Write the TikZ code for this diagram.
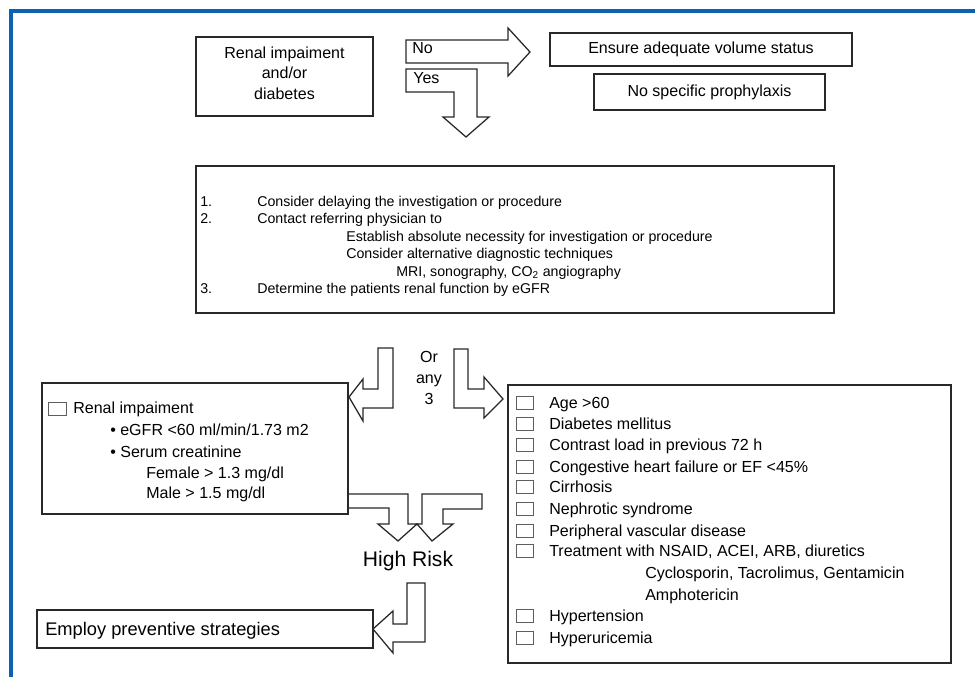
\documentclass[tikz,border=0pt]{standalone}
\usepackage{fontspec}
\setmainfont{Liberation Sans}
\definecolor{frameblue}{RGB}{14,96,180}
\definecolor{ink}{RGB}{40,40,40}
\begin{document}
\begin{tikzpicture}[x=0.025cm,y=-0.025cm,
  box/.style={draw=ink,line width=1pt,inner sep=0pt,align=center,font=\fontsize{11.4}{14.5}\selectfont},
  bigarrow/.style={draw=ink,line width=0.9pt,line join=miter},
  txt/.style={anchor=base west,inner sep=0pt,font=\fontsize{11.4}{14}\selectfont},
  small/.style={txt,font=\fontsize{10.1}{12}\selectfont},
  tickbox/.style={draw=ink!75,line width=0.6pt}]
\useasboundingbox (0,0) rectangle (975,677);
\draw[frameblue,line width=2.2pt] (11,677) -- (11,11) -- (975,11);
\def\boxat#1#2#3#4#5#6{\node[box,minimum width={(#4-#2)*0.025cm},minimum height={(#5-#3)*0.025cm}] (#1) at ({(#2+#4)/2},{(#3+#5)/2}) {#6};}
\boxat{start}{196}{37}{373}{116}{}
\node[align=center,inner sep=0pt,font=\fontsize{11.4}{14.5}\selectfont] (starttxt) at (284.5,73) {Renal impaiment\\and/or\\diabetes};
\boxat{volume}{550}{33}{852}{66}{Ensure adequate volume status}
\boxat{noproph}{594}{74}{825}{110}{No specific prophylaxis}
\boxat{steps}{196}{166}{834}{313}{}
\boxat{renal}{42}{383}{348}{514}{}
\boxat{factors}{508}{385}{951}{663}{}
\boxat{employ}{37}{610}{373}{648}{}
\draw[bigarrow] (406,40) -- (508,40) -- (508,28) -- (530,52) -- (508,76) -- (508,63) -- (406,63) -- cycle;
\draw[bigarrow] (406,69) -- (477,69) -- (477,117) -- (489,117) -- (466,137) -- (443,117) -- (454,117) -- (454,92) -- (406,92) -- cycle;
\node[txt] (no) at (412,53) {No};
\node[txt] (yes) at (413,83) {Yes};
\foreach \x/\y/\t [count=\i] in {200/201/1., 257/201/Consider delaying the investigation or procedure,
  200/218/2., 257/218/Contact referring physician to,
  346/236/Establish absolute necessity for investigation or procedure,
  346/253/Consider alternative diagnostic techniques,
  396/271/{MRI, sonography, CO\textsubscript{2} angiography},
  200/288/3., 257/288/Determine the patients renal function by eGFR}
  \node[small] (step\i) at (\x,\y+5) {\t};
\draw[bigarrow] (378,348) -- (393,348) -- (393,408) -- (363,408) -- (363,421) -- (349,397) -- (363,379) -- (363,389) -- (378,389) -- cycle;
\draw[bigarrow] (454,349) -- (468,349) -- (468,389) -- (484,389) -- (484,377) -- (503,399) -- (484,418) -- (484,408) -- (454,408) -- cycle;
\node[align=center,inner sep=0pt,font=\fontsize{11.4}{14.9}\selectfont] (orany) at (429,378) {Or\\any\\3};
\draw[tickbox] (48,402) rectangle (66,415);
\node[txt] (ri) at (73,413.5) {Renal impaiment};
\foreach \x/\y/\t [count=\i] in {110/430/{\textbullet\ eGFR <60 ml/min/1.73 m2}, 110/452/{\textbullet\ Serum creatinine},
  146/473/{Female > 1.3 mg/dl}, 146/493/{Male > 1.5 mg/dl}}
  \node[txt] (crit\i) at (\x,\y+5.5) {\t};
\foreach \y/\t [count=\i] in {403/Age >60, 424/Diabetes mellitus, 445/Contrast load in previous 72 h,
  467/Congestive heart failure or EF <45\%, 487/Cirrhosis, 509/Nephrotic syndrome,
  531/Peripheral vascular disease, 551/{Treatment with NSAID, ACEI, ARB, diuretics},
  616/Hypertension, 638/Hyperuricemia}{
  \draw[tickbox] (516,\y-6.5) rectangle (533,\y+6.5);
  \node[txt] (risk\i) at (549,\y+5.5) {\t};
}
\node[txt] (drugs1) at (645,578.5) {Cyclosporin, Tacrolimus, Gentamicin};
\node[txt] (drugs2) at (645,600.5) {Amphotericin};
\draw[bigarrow] (348,494) -- (408,494) -- (408,524) -- (417,524) -- (398,541) -- (378,524) -- (389,524) -- (389,508) -- (348,508);
\draw[bigarrow] (422,494) -- (482,494) -- (482,509) -- (443,509) -- (443,524) -- (453,524) -- (432,541) -- (417,524) -- (422,524) -- cycle;
\node[anchor=base,inner sep=0pt,font=\fontsize{15}{18}\selectfont] (high) at (408,566) {High Risk};
\draw[bigarrow] (407,583) -- (425,583) -- (425,642) -- (393,642) -- (393,653) -- (373,629) -- (393,611) -- (393,624) -- (407,624) -- cycle;
\node[txt,font=\fontsize{13}{15}\selectfont] (prev) at (45,635.5) {Employ preventive strategies};
\end{tikzpicture}
\end{document}
